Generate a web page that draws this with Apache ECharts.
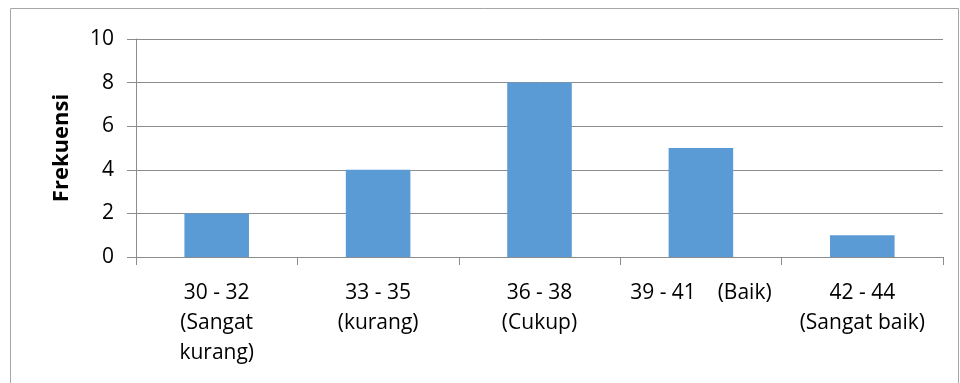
<!DOCTYPE html>
<html>
<head>
<meta charset="utf-8">
<script src="https://cdn.jsdelivr.net/npm/echarts@6/dist/echarts.min.js"></script>
<style>
  html, body { margin: 0; padding: 0; background: #fff; }
  #chart { width: 960px; height: 383px; }
</style>
</head>
<body>
<div id="chart"></div>
<script>
// Score ranges with their quality labels
const categories = [
  '30 - 32\n(Sangat\nkurang)',
  '33 - 35\n(kurang)',
  '36 - 38\n(Cukup)',
  '39 - 41    (Baik)',
  '42 - 44\n(Sangat baik)'
];
// Number of respondents in each range
const frequencies = [2, 4, 8, 5, 1];
// Value axis ticks
const yTicks = [0, 2, 4, 6, 8, 10];

const FONT = '"Open Sans", Lato, sans-serif';
const chart = echarts.init(document.getElementById('chart'), null, { renderer: 'canvas' });

chart.setOption({
  backgroundColor: '#ffffff',
  animation: false,
  graphic: [{
    type: 'rect',
    shape: { x: 10.5, y: 8.5, width: 948, height: 400 },
    style: { fill: 'none', stroke: '#a6a6a6', lineWidth: 1 },
    silent: true
  }],
  grid: { left: 136, right: 17, top: 39, bottom: 126, containLabel: false },
  xAxis: {
    type: 'category',
    data: categories,
    axisLine: { lineStyle: { color: '#8c8c8c', width: 1 } },
    axisTick: { show: true, length: 8, alignWithLabel: false, lineStyle: { color: '#8c8c8c' } },
    axisLabel: {
      color: '#000',
      fontFamily: FONT,
      fontSize: 21,
      lineHeight: 30,
      margin: 21,
      interval: 0
    }
  },
  yAxis: {
    type: 'value',
    min: yTicks[0],
    max: yTicks[yTicks.length - 1],
    interval: yTicks[1] - yTicks[0],
    name: 'Frekuensi',
    nameLocation: 'middle',
    nameGap: 63,
    nameRotate: 90,
    nameTextStyle: { color: '#000', fontFamily: FONT, fontSize: 22, fontWeight: 'bold' },
    axisLine: { show: true, lineStyle: { color: '#8c8c8c', width: 1 } },
    axisTick: { show: true, length: 9, lineStyle: { color: '#8c8c8c' } },
    axisLabel: { color: '#000', fontFamily: FONT, fontSize: 21, margin: 22 },
    splitLine: { show: true, lineStyle: { color: '#8c8c8c', width: 1 } }
  },
  series: [{
    type: 'bar',
    data: frequencies,
    barWidth: '40%',
    itemStyle: { color: '#5b9bd5' }
  }]
});
</script>
</body>
</html>
